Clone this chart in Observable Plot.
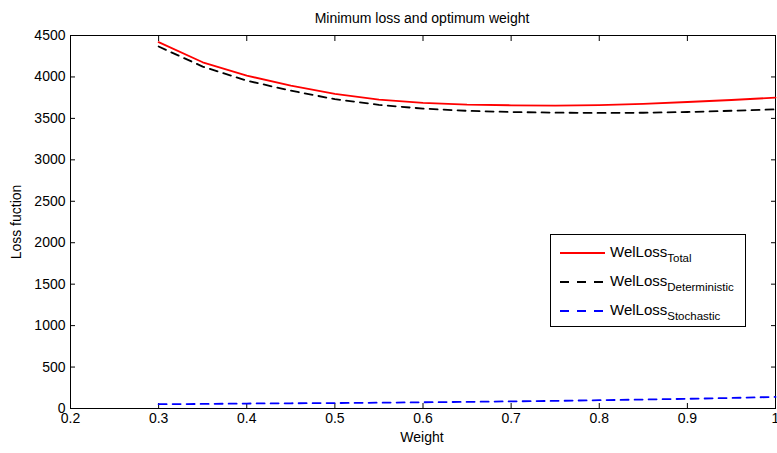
<!DOCTYPE html>
<html><head><meta charset="utf-8">
<script src="https://cdn.jsdelivr.net/npm/d3@7"></script>
<script src="https://cdn.jsdelivr.net/npm/@observablehq/plot@0.6"></script>
<style>
body{margin:0;background:#fff;font-family:"Liberation Sans",Arial,sans-serif;}
#wrap{position:relative;width:777px;height:453px;}
</style></head><body><div id="wrap"></div>
<script>
const weights = [0.3,0.35,0.4,0.45,0.5,0.55,0.6,0.65,0.7,0.75,0.8,0.85,0.9,0.95,1.0];
const total = [4420,4177,4016,3895,3795,3726,3686,3666,3658,3654,3660,3676,3698,3722,3750];
const deterministic = [4367,4125,3956,3834,3732,3663,3618,3591,3577,3569,3566,3568,3577,3592,3609];
const stochastic = [52,55,60,63,66,70,75,80,86,92,100,108,117,127,140];
const xTicks = [0.2,0.3,0.4,0.5,0.6,0.7,0.8,0.9,1];
const yTicks = [0,500,1000,1500,2000,2500,3000,3500,4000,4500];
const seriesNames = ["Total","Deterministic","Stochastic"];

const rows = [];
weights.forEach((w,i)=>{
  rows.push({w, v: total[i], s: "Total"});
  rows.push({w, v: deterministic[i], s: "Deterministic"});
  rows.push({w, v: stochastic[i], s: "Stochastic"});
});
const colors = {Total:"#ff0000", Deterministic:"#000000", Stochastic:"#0000ff"};
const dashes = {Total:null, Deterministic:"8,6", Stochastic:"8,6"};

const marks = [
  Plot.frame({stroke:"#000", strokeWidth:1}),
  Plot.axisX({anchor:"bottom", ticks:xTicks, tickSize:-5, text:null, label:null}),
  Plot.axisX({anchor:"top", ticks:xTicks, tickSize:-5, text:null, label:null}),
  Plot.axisY({anchor:"left", ticks:yTicks, tickSize:-5, text:null, label:null}),
  Plot.axisY({anchor:"right", ticks:yTicks, tickSize:-5, text:null, label:null}),
  Plot.axisX({anchor:"bottom", ticks:xTicks, tickSize:0, tickPadding:5, tickFormat:d=>String(d), fontSize:14, label:null}),
  Plot.axisY({anchor:"left", ticks:yTicks, tickSize:0, tickPadding:5, tickFormat:d=>String(d), fontSize:14, label:null}),
];
for (const s of seriesNames) {
  marks.push(Plot.line(rows.filter(r=>r.s===s), {x:"w", y:"v", stroke:colors[s], strokeWidth:1.8, strokeDasharray:dashes[s]}));
}

const chart = Plot.plot({
  width:777, height:453,
  marginLeft:70, marginRight:2, marginTop:35, marginBottom:45,
  style:{fontFamily:"'Liberation Sans', Arial, sans-serif", fontSize:"14px", color:"#000", background:"#fff"},
  x:{domain:[0.2,1], label:null},
  y:{domain:[0,4500], label:null},
  marks
});
document.getElementById("wrap").appendChild(chart);

const svg = d3.select(chart);
const addText = (x,y,str,opts={}) => {
  const t = svg.append("text").attr("x",x).attr("y",y).attr("text-anchor",opts.anchor||"middle")
    .attr("font-size",opts.size||14).attr("fill","#000").text(str);
  if (opts.rotate) t.attr("transform",`rotate(-90 ${x} ${y})`);
  return t;
};
addText(422, 23, "Minimum loss and optimum weight");
addText(422, 442, "Weight");
addText(21, 222, "Loss fuction", {rotate:true});

// legend
const lg = svg.append("g");
lg.append("rect").attr("x",550.5).attr("y",234.5).attr("width",195).attr("height",92)
  .attr("fill","#fff").attr("stroke","#000").attr("stroke-width",1);
seriesNames.forEach((s,i)=>{
  const y = 253 + i*29;
  const ln = lg.append("line").attr("x1",560).attr("x2",605).attr("y1",y).attr("y2",y)
    .attr("stroke",colors[s]).attr("stroke-width",1.8);
  if (dashes[s]) ln.attr("stroke-dasharray","9,8");
  const t = lg.append("text").attr("x",610).attr("y",y+4).attr("text-anchor","start")
    .attr("font-size",15).attr("fill","#000");
  t.append("tspan").text("WelLoss");
  t.append("tspan").attr("font-size",11.5).attr("dy",5).text(s);
});
</script></body></html>
